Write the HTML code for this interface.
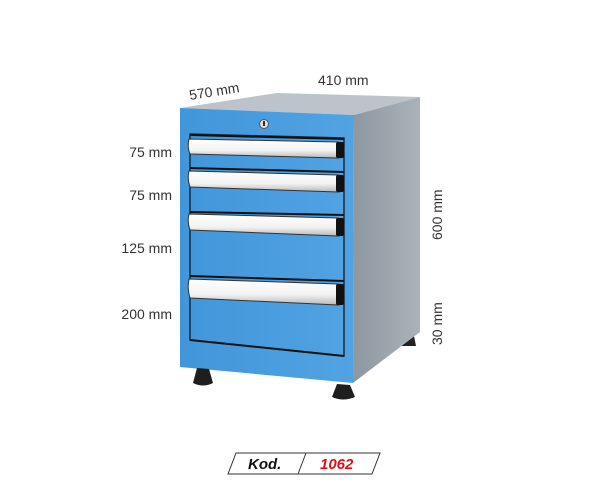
<!DOCTYPE html>
<html><head><style>
html,body{margin:0;padding:0;background:#fff;}
svg{display:block;}
text{font-family:"Liberation Sans",sans-serif;}
</style></head><body>
<svg width="608" height="483" viewBox="0 0 608 483" xmlns="http://www.w3.org/2000/svg">
<defs>
<linearGradient id="front" x1="0" y1="0" x2="1" y2="0">
<stop offset="0" stop-color="#4196da"/><stop offset="1" stop-color="#52a3e2"/></linearGradient>
<linearGradient id="side" x1="0" y1="0" x2="1" y2="0">
<stop offset="0" stop-color="#8e979f"/><stop offset="1" stop-color="#aab2ba"/></linearGradient>
<linearGradient id="handle" x1="0" y1="0" x2="0" y2="1">
<stop offset="0" stop-color="#ffffff"/><stop offset="0.6" stop-color="#f2f2f2"/><stop offset="1" stop-color="#b8b8b8"/></linearGradient>
</defs>
<path d="M404 336 L414 336 L416 346 L402 346 Z" fill="#222"/>
<polygon points="180,108 277,93 420,97 354,115" fill="#bcc3ca"/>
<polygon points="354,115 420,97 420,332 353,383" fill="url(#side)"/>
<polygon points="180,108 354,115 353,383 180,367" fill="url(#front)"/>
<path d="M190 134 L344 138 L344 356 L190 340 Z" fill="none" stroke="#1a2a3a" stroke-width="1.5"/>
<line x1="190" y1="340" x2="344" y2="356" stroke="#111" stroke-width="2"/>
<circle cx="264" cy="124" r="4.5" fill="#ddd" stroke="#555" stroke-width="1"/>
<rect x="263" y="121" width="2" height="5" fill="#333"/>
<line x1="190" y1="135" x2="344" y2="139" stroke="#111" stroke-width="2"/>
<line x1="190" y1="168" x2="344" y2="172" stroke="#111" stroke-width="2"/>
<line x1="190" y1="212" x2="344" y2="215" stroke="#111" stroke-width="2"/>
<line x1="190" y1="276" x2="344" y2="281" stroke="#111" stroke-width="2"/>
<g>
<path d="M189 139 L338 142 Q344 143 344 150 Q344 158 338 158 L190 154 Q187 147 189 139 Z" fill="url(#handle)" stroke="#333" stroke-width="1"/>
<rect x="336" y="142" width="8" height="16" rx="2" fill="#111"/>
<path d="M189 171 L338 175 Q344 176 344 183 Q344 192 338 192 L190 187 Q187 179 189 171 Z" fill="url(#handle)" stroke="#333" stroke-width="1"/>
<rect x="336" y="175" width="8" height="17" rx="2" fill="#111"/>
<path d="M189 214 L338 218 Q344 219 344 226 Q344 236 338 236 L190 230 Q187 222 189 214 Z" fill="url(#handle)" stroke="#333" stroke-width="1"/>
<rect x="336" y="218" width="8" height="18" rx="2" fill="#111"/>
<path d="M189 279 L338 284 Q344 285 344 292 Q344 305 338 305 L190 298 Q187 288 189 279 Z" fill="url(#handle)" stroke="#333" stroke-width="1"/>
<rect x="336" y="284" width="8" height="21" rx="2" fill="#111"/>
</g>
<path d="M197 368 L209 369 L213 383 Q203 388 193 383 Z" fill="#1e1e1e"/>
<path d="M337 384 L350 385 L355 397 Q343 402 332 397 Z" fill="#1e1e1e"/>
<g font-size="14" fill="#333" text-anchor="end">
<text x="172" y="157">75 mm</text>
<text x="172" y="200">75 mm</text>
<text x="172" y="253">125 mm</text>
<text x="172" y="319">200 mm</text>
</g>
<text x="190" y="100" font-size="14" fill="#333" transform="rotate(-9 190 100)">570 mm</text>
<text x="318" y="85" font-size="14" fill="#333">410 mm</text>
<text x="0" y="0" font-size="14" fill="#333" transform="translate(442 240) rotate(-90)">600 mm</text>
<text x="0" y="0" font-size="14" fill="#333" transform="translate(442 345) rotate(-90)">30 mm</text>
<polygon points="236,453 380,453 372,474 228,474" fill="#fff" stroke="#333" stroke-width="1"/>
<line x1="306" y1="453" x2="298" y2="474" stroke="#333" stroke-width="1"/>
<text x="248" y="469" font-size="15" font-weight="bold" font-style="italic" fill="#111">Kod.</text>
<text x="320" y="469" font-size="15" font-weight="bold" font-style="italic" fill="#e0101a">1062</text>
</svg>
</body></html>
